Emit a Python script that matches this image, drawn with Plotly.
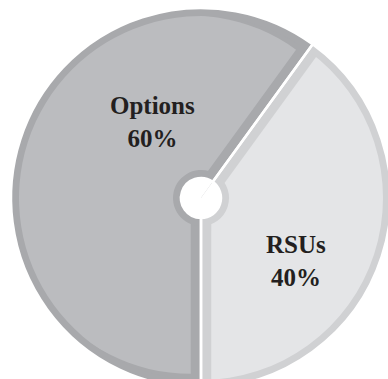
import plotly.graph_objects as go

labels = ["Options", "RSUs"]
values = [60, 40]
fill_colors = ["#bbbcbf", "#e4e5e7"]
band_colors = ["#a8a9ac", "#d0d1d3"]

W, H = 400, 400
CX, CY = 201, 198          # pie centre in pixels (from top-left)
R_OUT = 190
R_BAND_IN = 182
R_RING = 28
R_HOLE = 20
PULL = 0.0603


def dom(r):
    return dict(x=[(CX - r) / W, (CX + r) / W],
                y=[(H - CY - r) / H, (H - CY + r) / H])


common = dict(labels=labels, values=values, sort=False, direction="clockwise",
              rotation=180, textinfo="none", hoverinfo="skip", showlegend=False)

fig = go.Figure()
# base: band colours
fig.add_trace(go.Pie(**common, domain=dom(R_OUT),
                     marker=dict(colors=band_colors, line=dict(width=0))))
# inset fills (pulled along bisector)
fig.add_trace(go.Pie(**common, domain=dom(R_OUT), pull=[PULL, PULL],
                     marker=dict(colors=fill_colors, line=dict(width=0))))
# outer band ring
fig.add_trace(go.Pie(**common, domain=dom(R_OUT), hole=R_BAND_IN / R_OUT,
                     marker=dict(colors=band_colors, line=dict(width=0))))
# inner band ring
fig.add_trace(go.Pie(**common, domain=dom(R_RING),
                     marker=dict(colors=band_colors, line=dict(width=0))))
# white centre
fig.add_trace(go.Pie(**common, domain=dom(R_HOLE),
                     marker=dict(colors=["white", "white"], line=dict(width=0))))
# white separators on top
fig.add_trace(go.Pie(**common, domain=dom(R_OUT), hole=R_HOLE / R_OUT,
                     marker=dict(colors=["rgba(0,0,0,0)"] * 2,
                                 line=dict(color="white", width=2.5))))

total = sum(values)
label_pos = [(152, 122), (296, 261)]
for lab, val, (px, py) in zip(labels, values, label_pos):
    fig.add_annotation(x=px / W, y=(H - py) / H, xref="paper", yref="paper",
                       text=f"<b>{lab}</b><br><b>{round(val / total * 100)}%</b>",
                       showarrow=False, xanchor="center", yanchor="middle",
                       font=dict(family="Liberation Serif", size=25, color="#231f20"))

fig.update_layout(width=W, height=H, margin=dict(l=0, r=0, t=0, b=0, pad=0),
                  paper_bgcolor="white", plot_bgcolor="white")

fig.write_html("out.html", post_script=(
    "document.documentElement.style.overflow='hidden';"
    "document.body.style.overflow='hidden';document.body.style.margin='0';"))
